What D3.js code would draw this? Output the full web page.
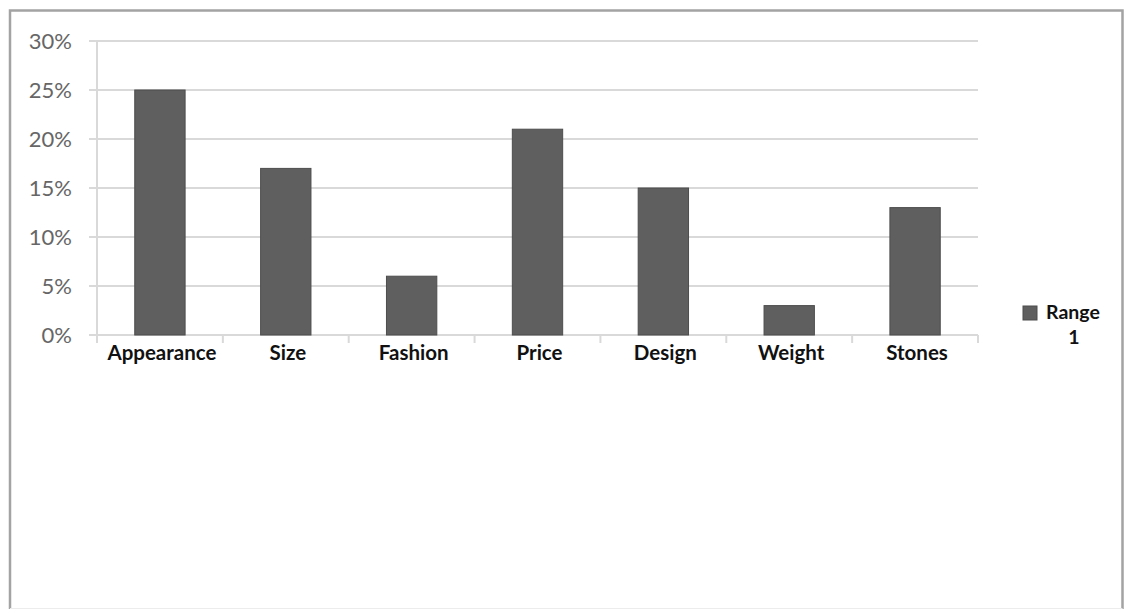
<!DOCTYPE html>
<html>
<head>
<meta charset="utf-8">
<script src="https://cdn.jsdelivr.net/npm/d3@7"></script>
<style>
  html, body { margin: 0; padding: 0; background: #fff; }
  svg { display: block; }
</style>
</head>
<body>
<svg id="chart" width="1126" height="610"></svg>
<script>
// Share of respondents naming each factor
const categories = ["Appearance", "Size", "Fashion", "Price", "Design", "Weight", "Stones"];
const values = [25, 17, 6, 21, 15, 3, 13];
const yTicks = [0, 5, 10, 15, 20, 25, 30];
const seriesName = ["Range", "1"];

const svg = d3.select("#chart");
const FONT = "Lato, 'Open Sans', sans-serif";

// outer frame: gray on top and sides, faint along the bottom
svg.append("rect")
  .attr("x", 9.5).attr("y", 10.5)
  .attr("width", 1113).attr("height", 598)
  .attr("fill", "#fff")
  .attr("stroke", "none");
svg.append("path")
  .attr("d", "M10,609 V10.5 H1122.5 V609")
  .attr("fill", "none")
  .attr("stroke", "#a3a3a3")
  .attr("stroke-width", 2.5);
svg.append("line")
  .attr("x1", 10).attr("x2", 1122.5)
  .attr("y1", 608.5).attr("y2", 608.5)
  .attr("stroke", "#ececec")
  .attr("stroke-width", 1);

const plot = { left: 97, right: 978, top: 41, bottom: 335 };

const x = d3.scaleBand()
  .domain(categories)
  .range([plot.left, plot.right])
  .paddingInner(0.6)
  .paddingOuter(0.3);

const y = d3.scaleLinear()
  .domain([0, 30])
  .range([plot.bottom, plot.top]);

// horizontal gridlines
svg.append("g")
  .selectAll("line")
  .data(yTicks)
  .join("line")
  .attr("x1", plot.left - 8)
  .attr("x2", plot.right)
  .attr("y1", d => y(d))
  .attr("y2", d => y(d))
  .attr("stroke", "#d9d9d9")
  .attr("stroke-width", 2);

// y axis line
svg.append("line")
  .attr("x1", plot.left).attr("x2", plot.left)
  .attr("y1", plot.top).attr("y2", plot.bottom)
  .attr("stroke", "#d9d9d9")
  .attr("stroke-width", 2);

// y tick labels
svg.append("g")
  .selectAll("text")
  .data(yTicks)
  .join("text")
  .attr("x", 72)
  .attr("y", d => y(d))
  .attr("dy", "0.36em")
  .attr("text-anchor", "end")
  .attr("font-family", FONT)
  .attr("font-size", 22)
  .attr("fill", "#666")
  .text(d => d + "%");

// x category ticks
const step = x.step();
const tickXs = d3.range(categories.length + 1).map(i => plot.left + i * step);
svg.append("g")
  .selectAll("line")
  .data(tickXs)
  .join("line")
  .attr("x1", d => d).attr("x2", d => d)
  .attr("y1", plot.bottom).attr("y2", plot.bottom + 8)
  .attr("stroke", "#d9d9d9")
  .attr("stroke-width", 2);

// bars
svg.append("g")
  .selectAll("rect")
  .data(values)
  .join("rect")
  .attr("x", (d, i) => x(categories[i]))
  .attr("y", d => y(d))
  .attr("width", x.bandwidth())
  .attr("height", d => y(0) - y(d))
  .attr("fill", "#5f5f5f")
  .attr("stroke", "#4d4d4d")
  .attr("stroke-width", 1);

// category labels
svg.append("g")
  .selectAll("text")
  .data(categories)
  .join("text")
  .attr("x", d => x(d) + x.bandwidth() / 2 + 2)
  .attr("y", 360)
  .attr("text-anchor", "middle")
  .attr("font-family", FONT)
  .attr("font-weight", "bold")
  .attr("font-size", 20.5)
  .attr("fill", "#111")
  .text(d => d);

// legend
const legend = svg.append("g");
legend.append("rect")
  .attr("x", 1023).attr("y", 306)
  .attr("width", 14).attr("height", 14)
  .attr("fill", "#5f5f5f")
  .attr("stroke", "#4d4d4d");
legend.append("text")
  .attr("x", 1046).attr("y", 319)
  .attr("font-family", FONT)
  .attr("font-weight", "bold")
  .attr("font-size", 19.5)
  .attr("fill", "#111")
  .text(seriesName[0]);
legend.append("text")
  .attr("x", 1074).attr("y", 344)
  .attr("text-anchor", "middle")
  .attr("font-family", FONT)
  .attr("font-weight", "bold")
  .attr("font-size", 19.5)
  .attr("fill", "#111")
  .text(seriesName[1]);
</script>
</body>
</html>
